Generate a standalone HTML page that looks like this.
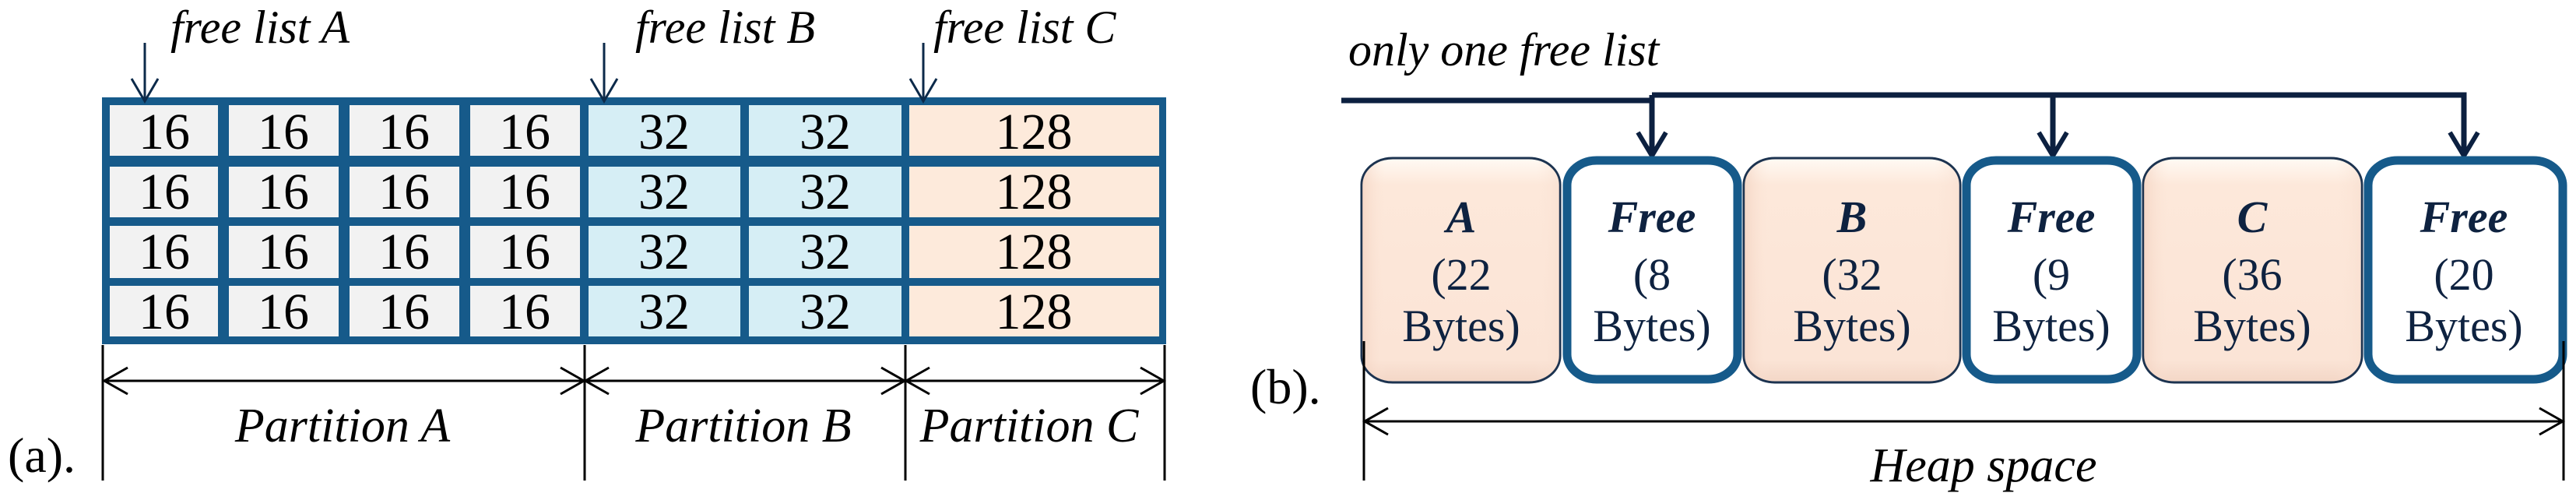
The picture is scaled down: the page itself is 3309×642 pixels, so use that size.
<!DOCTYPE html>
<html><head><meta charset="utf-8"><style>
html,body{margin:0;padding:0;background:#fff;}
svg{display:block;}
svg text{font-family:"Liberation Serif","DejaVu Serif",serif !important;}
</style></head><body>
<svg width="3309" height="642" viewBox="0 0 3309 642" xmlns="http://www.w3.org/2000/svg" font-family="Liberation Serif, DejaVu Serif, serif">
<defs>
<linearGradient id="pk" x1="0" y1="0" x2="0" y2="1">
<stop offset="0" stop-color="#fffaf4"/><stop offset="0.12" stop-color="#fde8da"/><stop offset="0.9" stop-color="#fbe4d6"/><stop offset="1" stop-color="#f3d6c6"/>
</linearGradient>
<linearGradient id="pkh" x1="0" y1="0" x2="1" y2="0">
<stop offset="0" stop-color="#f0cdbb" stop-opacity="0.6"/><stop offset="0.12" stop-color="#fde8da" stop-opacity="0"/><stop offset="0.88" stop-color="#fde8da" stop-opacity="0"/><stop offset="1" stop-color="#f6dccd" stop-opacity="0.5"/>
</linearGradient>
</defs>
<g>
<rect x="131" y="125" width="1367" height="317" fill="#165a8a"/>
<g fill="#f2f2f2">
<rect x="141" y="135" width="139" height="65"/><rect x="294" y="135" width="141" height="65"/><rect x="449" y="135" width="141" height="65"/><rect x="604" y="135" width="141" height="65"/>
<rect x="141" y="214" width="139" height="65"/><rect x="294" y="214" width="141" height="65"/><rect x="449" y="214" width="141" height="65"/><rect x="604" y="214" width="141" height="65"/>
<rect x="141" y="290" width="139" height="67"/><rect x="294" y="290" width="141" height="67"/><rect x="449" y="290" width="141" height="67"/><rect x="604" y="290" width="141" height="67"/>
<rect x="141" y="367" width="139" height="65"/><rect x="294" y="367" width="141" height="65"/><rect x="449" y="367" width="141" height="65"/><rect x="604" y="367" width="141" height="65"/>
</g>
<g fill="#d6eef5">
<rect x="756" y="135" width="195" height="65"/><rect x="962" y="135" width="196" height="65"/>
<rect x="756" y="214" width="195" height="65"/><rect x="962" y="214" width="196" height="65"/>
<rect x="756" y="290" width="195" height="67"/><rect x="962" y="290" width="196" height="67"/>
<rect x="756" y="367" width="195" height="65"/><rect x="962" y="367" width="196" height="65"/>
</g>
<g fill="#fdeadb">
<rect x="1168" y="135" width="321" height="65"/><rect x="1168" y="214" width="321" height="65"/><rect x="1168" y="290" width="321" height="67"/><rect x="1168" y="367" width="321" height="65"/>
</g>
<g font-size="66" text-anchor="middle" fill="#000">
<text x="211" y="191">16</text><text x="364" y="191">16</text><text x="519" y="191">16</text><text x="674" y="191">16</text><text x="853" y="191">32</text><text x="1060" y="191">32</text><text x="1328" y="191">128</text>
<text x="211" y="268">16</text><text x="364" y="268">16</text><text x="519" y="268">16</text><text x="674" y="268">16</text><text x="853" y="268">32</text><text x="1060" y="268">32</text><text x="1328" y="268">128</text>
<text x="211" y="345">16</text><text x="364" y="345">16</text><text x="519" y="345">16</text><text x="674" y="345">16</text><text x="853" y="345">32</text><text x="1060" y="345">32</text><text x="1328" y="345">128</text>
<text x="211" y="422">16</text><text x="364" y="422">16</text><text x="519" y="422">16</text><text x="674" y="422">16</text><text x="853" y="422">32</text><text x="1060" y="422">32</text><text x="1328" y="422">128</text>
</g>
</g>
<g stroke="#0c2a4a" stroke-width="3" fill="none">
<path d="M186 55 V128 M169 101 L186 130 L203 101"/>
<path d="M776 55 V128 M759 101 L776 130 L793 101"/>
<path d="M1186 55 V128 M1169 101 L1186 130 L1203 101"/>
</g>
<g font-size="60" font-style="italic" fill="#000">
<text x="219" y="55">free list A</text>
<text x="816" y="55">free list B</text>
<text x="1199" y="55">free list C</text>
</g>
<g stroke="#000" stroke-width="3" fill="none">
<path d="M132 443 V617 M751 443 V617 M1163 443 V617 M1496 443 V617"/>
<path d="M132 489 H1496"/>
<path d="M164 472 L134 489 L164 506 M720 472 L750 489 L720 506 M782 472 L752 489 L782 506 M1132 472 L1162 489 L1132 506 M1194 472 L1164 489 L1194 506 M1465 472 L1495 489 L1465 506"/>
</g>
<g font-size="62" font-style="italic" fill="#000" text-anchor="middle">
<text x="440" y="567">Partition  A</text>
<text x="955" y="567">Partition  B</text>
<text x="1322" y="567">Partition  C</text>
</g>
<text x="10" y="606" font-size="64" fill="#000">(a).</text>
<text x="1606" y="518" font-size="64" fill="#000">(b).</text>
<text x="1732" y="84" font-size="60" font-style="italic" fill="#000">only one free list</text>
<g stroke="#0c2040" stroke-width="7" fill="none">
<path d="M1723 129 H2122 M2122 122 H3165 V200 M2122 122 V200 M2637 122 V200"/>
<path d="M2104 170 L2122 200 L2140 170 M2619 170 L2637 200 L2655 170 M3147 170 L3165 200 L3183 170" stroke-width="6"/>
</g>
<g stroke="#1c3350" stroke-width="3">
<rect x="1749" y="203" width="255" height="288" rx="40" ry="34" fill="url(#pk)"/>
<rect x="2240" y="203" width="278" height="288" rx="40" ry="34" fill="url(#pk)"/>
<rect x="2753" y="203" width="281" height="288" rx="40" ry="34" fill="url(#pk)"/>
</g>
<g stroke="none">
<rect x="1750" y="204" width="253" height="286" rx="40" ry="34" fill="url(#pkh)"/>
<rect x="2241" y="204" width="276" height="286" rx="40" ry="34" fill="url(#pkh)"/>
<rect x="2754" y="204" width="279" height="286" rx="40" ry="34" fill="url(#pkh)"/>
</g>
<g stroke="#165a8a" stroke-width="11" fill="#fff">
<rect x="2013" y="206" width="219" height="281" rx="38" ry="32"/>
<rect x="2526" y="206" width="219" height="281" rx="38" ry="32"/>
<rect x="3042" y="206" width="250" height="281" rx="38" ry="32"/>
</g>
<g font-size="58" fill="#0e2240" text-anchor="middle">
<text x="1877" y="298" font-weight="bold" font-style="italic">A</text>
<text x="1877" y="372">(22</text><text x="1877" y="438">Bytes)</text>
<text x="2122" y="298" font-weight="bold" font-style="italic">Free</text>
<text x="2122" y="372">(8</text><text x="2122" y="438">Bytes)</text>
<text x="2379" y="298" font-weight="bold" font-style="italic">B</text>
<text x="2379" y="372">(32</text><text x="2379" y="438">Bytes)</text>
<text x="2635" y="298" font-weight="bold" font-style="italic">Free</text>
<text x="2635" y="372">(9</text><text x="2635" y="438">Bytes)</text>
<text x="2893" y="298" font-weight="bold" font-style="italic">C</text>
<text x="2893" y="372">(36</text><text x="2893" y="438">Bytes)</text>
<text x="3165" y="298" font-weight="bold" font-style="italic">Free</text>
<text x="3165" y="372">(20</text><text x="3165" y="438">Bytes)</text>
</g>
<g stroke="#000" stroke-width="3" fill="none">
<path d="M1752 438 V617 M3293 438 V617 M1752 541 H3293"/>
<path d="M1783 524 L1753 541 L1783 558 M3262 524 L3292 541 L3262 558"/>
</g>
<text x="2548" y="618" font-size="62" font-style="italic" fill="#000" text-anchor="middle">Heap space</text>
</svg>
</body></html>
